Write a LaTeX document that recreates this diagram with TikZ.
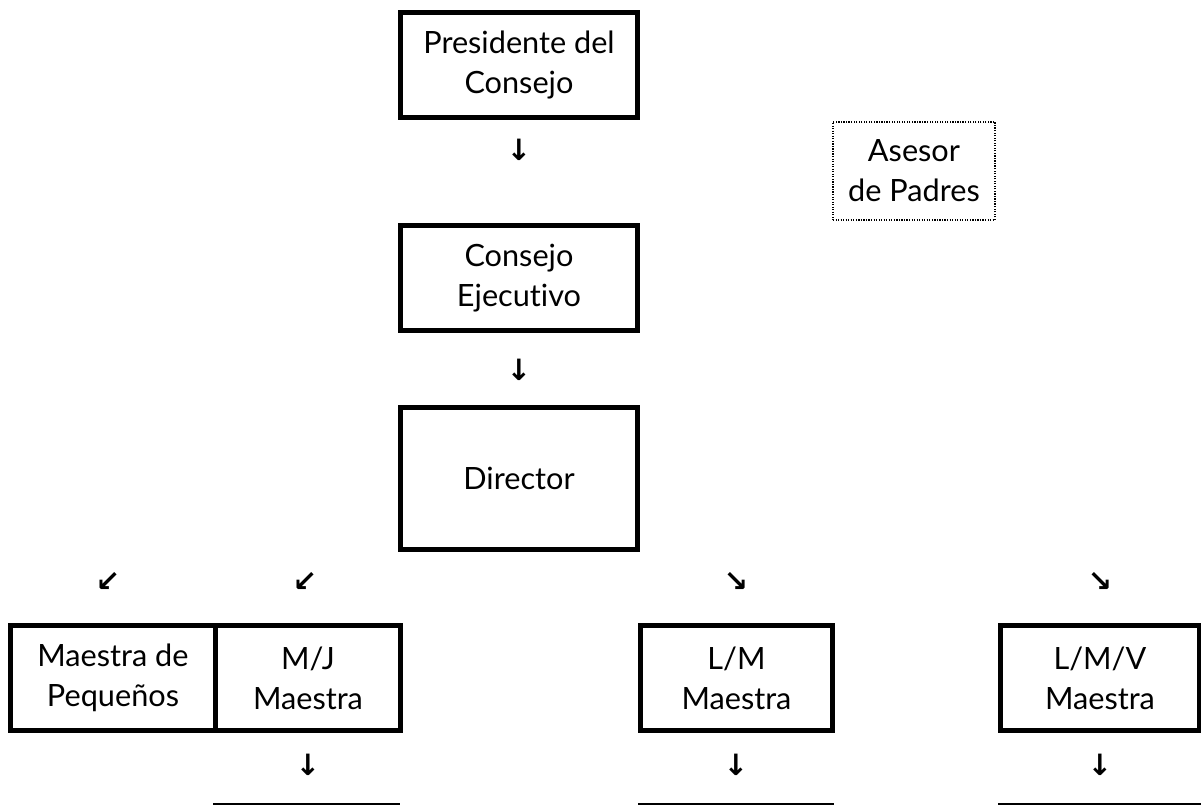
\documentclass[tikz,border=0pt]{standalone}
\usepackage{fontspec}
\setmainfont{Lato}[Ligatures=NoCommon]
\newfontfamily\arrowfont{DejaVu Sans}
\usetikzlibrary{positioning}
\tikzset{
  office/.style  = {draw, line width=3.75pt, align=center, inner sep=0pt,
                    minimum height=78.75pt, font=\fontsize{23}{30}\selectfont},
  advisor/.style = {draw, densely dotted, line width=0.9pt, align=center, inner sep=0pt,
                    minimum width=121.5pt, minimum height=73.5pt, font=\fontsize{23}{30}\selectfont},
  flow/.style    = {inner sep=0pt, font=\arrowfont\bfseries\fontsize{22}{22}\selectfont},
  blank/.style   = {line width=1.5pt}
}

\begin{document}
\begin{tikzpicture}[x=0.75pt, y=-0.75pt]
  \useasboundingbox (0,0) rectangle (1201,805);
  % top of the chart
  \node[office, minimum width=177.75pt] (pres) at (519,65) {Presidente del\\Consejo};
  \node[flow] (d1) at (519,150) {↓};
  \node[advisor] (asesor) at (914,171) {Asesor\\de Padres};
  \node[office, minimum width=177.75pt] (ejec) at (519,278) {Consejo\\Ejecutivo};
  \node[flow] (d2) at (519,370) {↓};
  \node[office, minimum width=177.75pt, minimum height=106.5pt] (dir) at (519,478.5) {Director};
  % branches
  \node[flow] (b1) at (108,582) {↙};
  \node[flow] (b2) at (305,582) {↙};
  \node[flow] (b3) at (736,582) {↘};
  \node[flow] (b4) at (1100,582) {↘};
  % teachers
  \node[office, minimum width=153.75pt] (peq) at (113,678) {Maestra de\\Pequeños};
  \node[office, minimum width=138.75pt] (mj) at (308,678) {M/J\\Maestra};
  \node[office, minimum width=144pt] (lm) at (736.5,678) {L/M\\Maestra};
  \node[office, minimum width=149.25pt] (lmv) at (1100,678) {L/M/V\\Maestra};
  \node[flow] (d3) at (308,765) {↓};
  \node[flow] (d4) at (736,765) {↓};
  \node[flow] (d5) at (1100,765) {↓};
  \draw[blank] (213,804) -- (400,804);
  \draw[blank] (638,804) -- (834,804);
  \draw[blank] (998,804) -- (1201,804);
\end{tikzpicture}
\end{document}
